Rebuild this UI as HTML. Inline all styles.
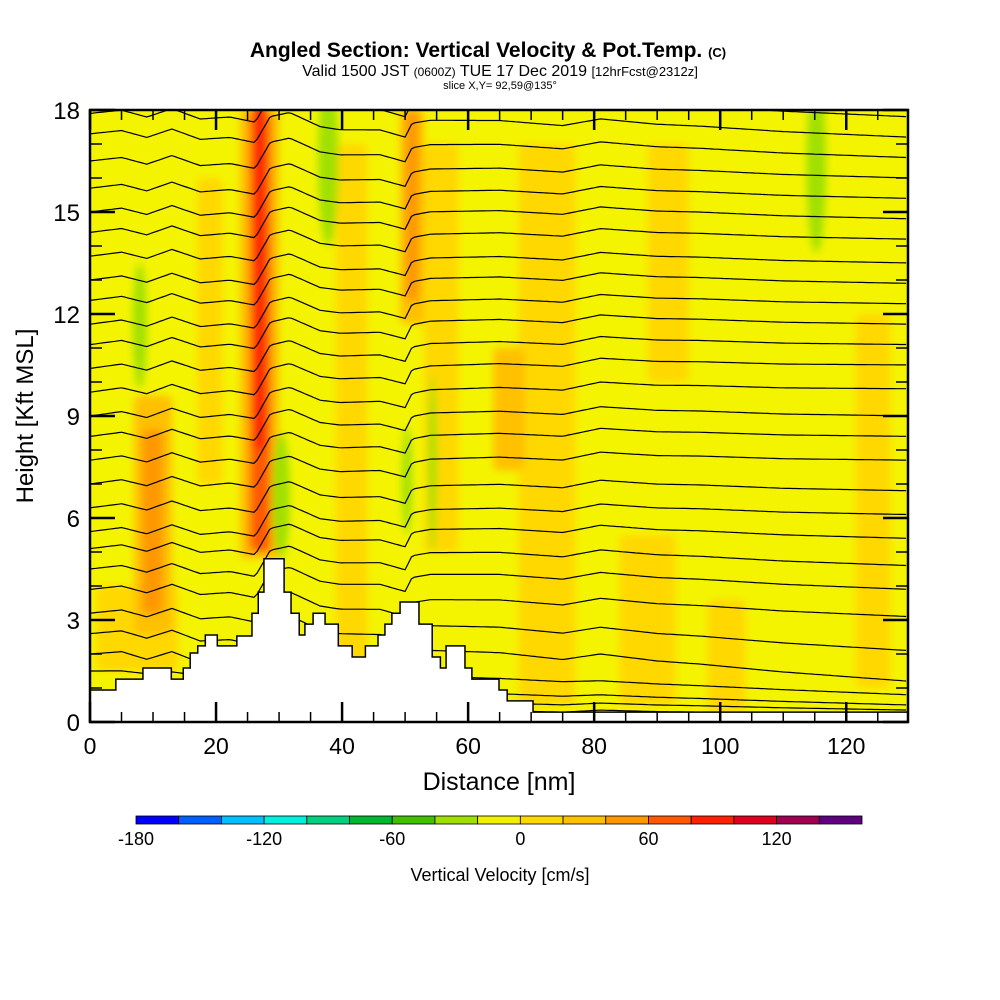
<!DOCTYPE html>
<html><head><meta charset="utf-8">
<style>
html,body{margin:0;padding:0;background:#fff;width:1000px;height:1000px;overflow:hidden}
svg{display:block;font-family:"Liberation Sans",sans-serif}
</style></head>
<body>
<svg id="chart" width="1000" height="1000" viewBox="0 0 1000 1000" xmlns="http://www.w3.org/2000/svg">
<defs>
<filter id="soft" x="-50%" y="-10%" width="200%" height="120%"><feGaussianBlur stdDeviation="4"/></filter>
<clipPath id="plotclip"><rect x="90" y="110" width="818" height="612"/></clipPath>
</defs>
<text x="488" y="57" text-anchor="middle" font-size="21" font-weight="bold">Angled Section: Vertical Velocity &amp; Pot.Temp. <tspan font-size="13">(C)</tspan></text>
<text x="500" y="76" text-anchor="middle" font-size="16">Valid 1500 JST <tspan font-size="12">(0600Z)</tspan> TUE 17 Dec 2019 <tspan font-size="13">[12hrFcst@2312z]</tspan></text>
<text x="500" y="89" text-anchor="middle" font-size="11">slice X,Y= 92,59@135°</text>
<g id="plot" clip-path="url(#plotclip)">
<rect x="90" y="110" width="818" height="612" fill="#f4f400"/>
<g id="field" filter="url(#soft)"></g>
<g id="contours"></g>
<g id="terrain"></g>
</g>
<rect x="90" y="110" width="818" height="612" fill="none" stroke="#000" stroke-width="2.5"/>
<g id="axes"></g>
<g id="colorbar"></g>
<text x="499" y="790" text-anchor="middle" font-size="25">Distance [nm]</text>
<text transform="translate(33,416) rotate(-90)" text-anchor="middle" font-size="24">Height [Kft MSL]</text>
<text x="500" y="881" text-anchor="middle" font-size="18">Vertical Velocity [cm/s]</text>
</svg>
<script>
// ---- data ----
const xTicks = [0,20,40,60,80,100,120];
const yTicks = [0,3,6,9,12,15,18];
const cbLevels = [-180,-160,-140,-120,-100,-80,-60,-40,-20,0,20,40,60,80,100,120,140,160];
const cbColors = ["#0000ff","#0060ff","#00c0ff","#00f0e0","#00d080","#00b830","#40c000","#a0e000","#f0f000","#ffd800","#ffc000","#ff9800","#ff5800","#ff2000","#e00020","#a00050","#600080"];
const cbLabels = [-180,-120,-60,0,60,120];
// velocity patches: x0,x1 (nm), z0,z1 (kft), value (cm/s)
const patchX0 = [1,39,53,68,84,98,121.5,17,88.5,23.8,7,49.2,64,8.3,50,25,25.6,26];
const patchX1 = [14,44,58.5,77,93,104,127,21,95,30,13,53,69,11.6,52.2,29,28.4,27.8];
const patchZ0 = [1.5,1,5,0.5,0.5,0.3,1,7,10,4.8,2.6,11.7,7.4,3.2,12.4,5,5,8];
const patchZ1 = [4,17,17,17,5.5,3.6,12,16,17,18,9.6,18,11,8.6,18,18,18,18.5];
const patchV  = [10,10,10,10,10,10,10,10,10,30,30,30,30,50,50,50,70,90];
// negative-velocity streaks (ellipses)
const greenX0 = [36.2,6.8,28.9,49.5,53.7,113.7];
const greenX1 = [39.4,9,31.7,51.1,55,116.8];
const greenZ0 = [14,9.8,4.8,5.5,5,13.8];
const greenZ1 = [19,13.5,8.5,8.7,10.2,19];
const greenV  = [-30,-30,-30,-30,-30,-30];
// isentrope heights at left and right edges (kft)
const thetaLeft  = [17.9,17.3,16.5,15.7,15.0,14.4,13.7,13.0,12.4,11.7,11.1,10.4,9.7,9.0,8.4,7.7,7.0,6.3,5.6,5.1,4.5,3.9,3.2,2.6,2.0,1.5,0.9,0.5,0.2];
const thetaRight = [17.8,17.2,16.6,16.0,15.4,14.8,14.2,13.5,12.9,12.3,11.7,11.1,10.5,9.8,9.0,8.4,7.7,6.8,6.1,5.4,4.6,3.9,3.1,2.1,1.2,0.8,0.5,0.35,0.2];
const waveX = [0,5,9,13,17.5,22.2,26.2,28.6,31.7,36.5,39.7,46,50,51.1,54,65,75,81,90,96.8,110,130];
const waveZ = [0,0.1,-0.1,0.15,-0.15,-0.09,-0.24,0.53,0.65,0.24,0.15,0.15,-0.06,0.35,0.44,0.44,0.3,0.5,0.35,0.3,0.15,0];
// terrain steps
const terrX = [0,4.1,8.4,12.9,14.8,15.9,17.1,18.3,20.2,23.3,25.7,26.7,27.6,30.8,31.9,33.2,34.1,35.4,37.3,39.4,41.6,43.7,45.7,46.8,47.9,49.2,52.2,54.3,55.6,56.5,59.5,60.6,64.9,66.2,70.3,130];
const terrH = [0.94,1.26,1.59,1.26,1.59,2.03,2.24,2.56,2.24,2.53,3.2,3.82,4.8,3.82,3.2,2.56,2.88,3.2,2.88,2.24,1.91,2.24,2.56,2.88,3.2,3.53,2.88,1.91,1.59,2.24,1.59,1.26,0.94,0.62,0.29];

// ---- scales ----
const X0=90,X1=908,Y0=722,Y1=110,XMAX=129.8,YMAX=18;
const sx = v => X0 + v/XMAX*(X1-X0);
const sy = v => Y0 - v/YMAX*(Y0-Y1);
const CB0=136,CB1=862;
const cx = v => CB0 + (v-cbLevels[0])/(cbLevels[cbLevels.length-1]-cbLevels[0])*(CB1-CB0);
const colorFor = v => { for(let i=0;i<cbColors.length;i++){ if(v>=cbLevels[i]&&v<cbLevels[i+1]) return cbColors[i]; } return cbColors[cbColors.length-1]; };
const NS="http://www.w3.org/2000/svg";
function mk(tag,attrs,parent){const e=document.createElementNS(NS,tag);for(const k in attrs)e.setAttribute(k,attrs[k]);parent.appendChild(e);return e;}

// field
const field=document.getElementById('field');
for(let i=0;i<patchV.length;i++){
  const r=mk('rect',{x:sx(patchX0[i]),y:sy(patchZ1[i]),width:sx(patchX1[i])-sx(patchX0[i]),height:sy(patchZ0[i])-sy(patchZ1[i]),rx:6,fill:colorFor(patchV[i])},field);
  
  
}
for(let i=0;i<greenV.length;i++){
  const e=mk('ellipse',{cx:(sx(greenX0[i])+sx(greenX1[i]))/2,cy:(sy(greenZ0[i])+sy(greenZ1[i]))/2,rx:(sx(greenX1[i])-sx(greenX0[i]))/2,ry:(sy(greenZ0[i])-sy(greenZ1[i]))/2,fill:colorFor(greenV[i])},field);
  
  
}
// contours
function wave(x){for(let i=0;i<waveX.length-1;i++){if(x>=waveX[i]&&x<=waveX[i+1]){const t=(x-waveX[i])/(waveX[i+1]-waveX[i]);return waveZ[i]+t*(waveZ[i+1]-waveZ[i]);}}return 0;}
const cg=document.getElementById('contours');
for(let j=0;j<thetaLeft.length;j++){
  const pts=[];
  const w = j>24 ? 0.3 : 1;
  for(let x=0;x<=XMAX+0.01;x+=0.5){
    const t=x/XMAX;
    const z=thetaLeft[j]+(thetaRight[j]-thetaLeft[j])*t+wave(x)*w;
    pts.push(sx(x).toFixed(1)+','+sy(z).toFixed(1));
  }
  const p=mk('polyline',{points:pts.join(' '),fill:'none',stroke:'#000','stroke-width':1.2},cg);
  
  
}
// terrain
let d='M'+sx(0)+','+sy(0);
for(let i=0;i<terrH.length;i++){d+=' L'+sx(terrX[i])+','+sy(terrH[i])+' L'+sx(terrX[i+1])+','+sy(terrH[i]);}
d+=' L'+sx(terrX[terrX.length-1])+','+sy(0)+' Z';
const tp=mk('path',{d:d,fill:'#fff',stroke:'#000','stroke-width':1.5},document.getElementById('terrain'));



// axes
const ax=document.getElementById('axes');
for(let v=0;v<=XMAX;v+=5){
  const major=v%20===0, L=major?20:10;
  mk('line',{x1:sx(v),x2:sx(v),y1:Y0,y2:Y0-L,stroke:'#000','stroke-width':major?2.5:1.5},ax);
  mk('line',{x1:sx(v),x2:sx(v),y1:Y1,y2:Y1+L,stroke:'#000','stroke-width':major?2.5:1.5},ax);
}
for(let v=0;v<=YMAX;v+=1){
  const major=v%3===0, L=major?25:12;
  mk('line',{x1:X0,x2:X0+L,y1:sy(v),y2:sy(v),stroke:'#000','stroke-width':major?2.5:1.5},ax);
  mk('line',{x1:X1,x2:X1-L,y1:sy(v),y2:sy(v),stroke:'#000','stroke-width':major?2.5:1.5},ax);
}
xTicks.forEach(v=>{const t=mk('text',{x:sx(v),y:754,'text-anchor':'middle','font-size':23},ax);t.textContent=v;
  
  });
yTicks.forEach(v=>{const t=mk('text',{x:80,y:sy(v)+9,'text-anchor':'end','font-size':24},ax);t.textContent=v;
  
  });

// colorbar
const cb=document.getElementById('colorbar');
for(let i=0;i<cbColors.length;i++){
  const r=mk('rect',{x:cx(cbLevels[i]),y:816,width:cx(cbLevels[i+1])-cx(cbLevels[i]),height:8,fill:cbColors[i],stroke:'#000','stroke-width':0.8},cb);
  
  
}
cbLabels.forEach(v=>{const t=mk('text',{x:cx(v),y:845,'text-anchor':'middle','font-size':18},cb);t.textContent=v;
  
  });
</script>
</body></html>
